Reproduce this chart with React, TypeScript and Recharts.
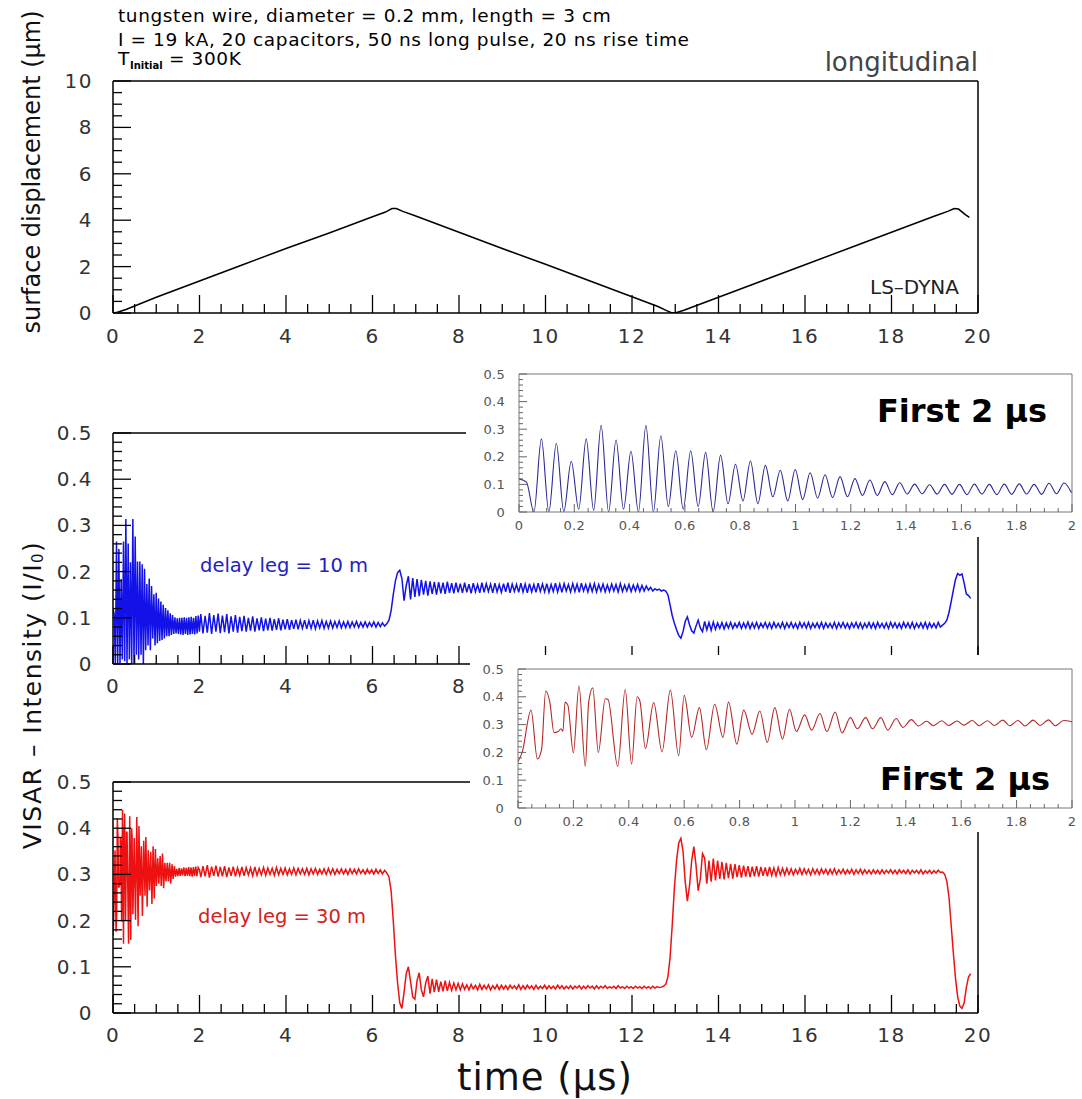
import React from "react";
import { LineChart, Line, XAxis, YAxis, ReferenceLine } from "recharts";

const FONT = "'DejaVu Sans', Verdana, sans-serif";

// tick labels
const TOP_X_MAJOR = [0, 2, 4, 6, 8, 10, 12, 14, 16, 18, 20];
const TOP_Y_MAJOR = [0, 2, 4, 6, 8, 10];
const VISAR_Y_MAJOR = [0, 0.1, 0.2, 0.3, 0.4, 0.5];
const INSET_X_MAJOR = [0, 0.2, 0.4, 0.6, 0.8, 1, 1.2, 1.4, 1.6, 1.8, 2];

// surface displacement (um) vs time (us)
const TOP_T = [0, 0.1, 0.3, 0.5, 1, 2, 3, 4, 5, 6, 6.3, 6.45, 6.55, 6.7, 7, 8, 9, 10, 11, 12, 12.6, 12.8, 12.9, 13.0, 13.2, 14, 15, 16, 17, 18, 19, 19.3, 19.45, 19.55, 19.7, 19.8];
const TOP_D = [0, 0.03, 0.15, 0.3, 0.68, 1.38, 2.08, 2.78, 3.45, 4.15, 4.35, 4.5, 4.5, 4.38, 4.18, 3.48, 2.78, 2.1, 1.4, 0.7, 0.28, 0.1, 0.02, 0.0, 0.12, 0.68, 1.38, 2.08, 2.78, 3.48, 4.18, 4.38, 4.5, 4.48, 4.25, 4.12];

// sampling of the VISAR traces (us)
const EARLY_STEP = 0.027;
const STEP = 0.05;

// delay leg = 10 m, first 2 us (peaks / troughs)
const BLUE_0_2 = [
  0.12, 0.108, 0.0, 0.265, 0.0, 0.249, 0.002, 0.184, 0.01, 0.265,
  0.006, 0.314, 0.0, 0.261, 0.01, 0.22, 0.0, 0.314, 0.0, 0.276,
  0.02, 0.222, 0.01, 0.222, 0.02, 0.216, 0.0, 0.206, 0.03, 0.173,
  0.04, 0.185, 0.03, 0.169, 0.055, 0.151, 0.04, 0.154, 0.045, 0.142,
  0.05, 0.135, 0.052, 0.128, 0.055, 0.121, 0.06, 0.116, 0.06, 0.11,
  0.063, 0.106, 0.065, 0.101, 0.066, 0.099, 0.065, 0.1, 0.064, 0.1,
  0.063, 0.101, 0.065, 0.1, 0.063, 0.101, 0.064, 0.102, 0.065, 0.1,
  0.064, 0.104, 0.066, 0.105, 0.07,
];
// 2.03 .. 6.28 us
const BLUE_2_6 = [
  0.108, 0.066, 0.104, 0.068, 0.11, 0.065, 0.106, 0.07, 0.109, 0.067,
  0.105, 0.069, 0.108, 0.066, 0.103, 0.07, 0.106, 0.068, 0.102, 0.071,
  0.104, 0.07, 0.1, 0.072, 0.103, 0.07, 0.099, 0.073, 0.101, 0.071,
  0.098, 0.073, 0.1, 0.072, 0.097, 0.074, 0.099, 0.073, 0.096, 0.075,
  0.097, 0.074, 0.095, 0.076, 0.096, 0.075, 0.094, 0.077, 0.095, 0.076,
  0.094, 0.077, 0.095, 0.076, 0.093, 0.078, 0.094, 0.077, 0.092, 0.078,
  0.093, 0.078, 0.092, 0.079, 0.093, 0.078, 0.091, 0.079, 0.092, 0.079,
  0.091, 0.08, 0.092, 0.079, 0.09, 0.08, 0.091, 0.08, 0.09, 0.081,
  0.091, 0.08, 0.09, 0.081, 0.089, 0.082,
];
// 6.33 .. 12.78 us
const BLUE_6_13 = [
  0.087, 0.095, 0.115, 0.15, 0.18, 0.198, 0.203, 0.185, 0.137, 0.17,
  0.19, 0.14, 0.186, 0.145, 0.184, 0.147, 0.182, 0.15, 0.18, 0.148,
  0.179, 0.152, 0.178, 0.15, 0.177, 0.153, 0.176, 0.152, 0.178, 0.154,
  0.175, 0.153, 0.176, 0.155,
  0.174, 0.154, 0.176, 0.155, 0.173, 0.153, 0.175, 0.156, 0.172, 0.154,
  0.176, 0.155, 0.174, 0.157, 0.173, 0.154, 0.175, 0.156, 0.172, 0.155,
  0.174, 0.156, 0.176, 0.154, 0.173, 0.157, 0.172, 0.155, 0.175, 0.156,
  0.173, 0.154, 0.174, 0.156, 0.172, 0.155, 0.175, 0.157, 0.173, 0.156,
  0.174, 0.155, 0.172, 0.157, 0.175, 0.156, 0.173, 0.155, 0.174, 0.158,
  0.172, 0.156, 0.174, 0.157, 0.173, 0.155, 0.175, 0.158, 0.172, 0.156,
  0.173, 0.157, 0.174, 0.156, 0.172, 0.158, 0.173, 0.156, 0.171, 0.157,
  0.173, 0.158, 0.172, 0.156, 0.174, 0.157, 0.171, 0.158, 0.172, 0.157,
  0.171, 0.158, 0.172, 0.157, 0.17, 0.158, 0.169, 0.16,
  0.166, 0.158, 0.163, 0.16, 0.162, 0.158, 0.16, 0.158,
];
// 12.83 .. 19.83 us
const BLUE_13_20 = [
  0.15, 0.128, 0.105, 0.088, 0.074, 0.062, 0.056, 0.07, 0.092, 0.102,
  0.085, 0.072, 0.067, 0.082, 0.095, 0.078, 0.07, 0.092, 0.074, 0.09,
  0.073, 0.091, 0.075, 0.089,
  0.077, 0.09, 0.076, 0.089, 0.078, 0.09, 0.077, 0.088, 0.079, 0.09,
  0.077, 0.089, 0.078, 0.091, 0.077, 0.089, 0.078, 0.09, 0.077, 0.088,
  0.079, 0.09, 0.078, 0.089, 0.077, 0.09, 0.079, 0.088, 0.078, 0.09,
  0.077, 0.089, 0.079, 0.09, 0.078, 0.088, 0.077, 0.09, 0.079, 0.089,
  0.078, 0.09, 0.077, 0.088, 0.079, 0.089, 0.078, 0.09, 0.077, 0.089,
  0.079, 0.088, 0.078, 0.09, 0.077, 0.089, 0.079, 0.09, 0.078, 0.088,
  0.077, 0.089, 0.079, 0.09, 0.078, 0.089, 0.077, 0.088, 0.079, 0.09,
  0.078, 0.089, 0.077, 0.09, 0.079, 0.088, 0.078, 0.089, 0.077, 0.09,
  0.079, 0.089, 0.078, 0.088, 0.077, 0.09, 0.079, 0.089, 0.078, 0.09,
  0.077, 0.088, 0.079, 0.089, 0.078, 0.09, 0.077, 0.089, 0.079, 0.088,
  0.078, 0.09, 0.08,
  0.084, 0.088, 0.095, 0.112, 0.135, 0.16, 0.183, 0.196, 0.192, 0.195,
  0.175, 0.152, 0.148, 0.142,
];

// delay leg = 30 m, first 2 us
const RED_0_2_T = [
  0, 0.015, 0.047, 0.07, 0.085, 0.1, 0.115, 0.13, 0.145, 0.155,
  0.162, 0.17, 0.18, 0.2, 0.22, 0.243, 0.255, 0.27, 0.29, 0.315,
  0.325, 0.36, 0.387, 0.41, 0.43, 0.44, 0.46, 0.49, 0.52, 0.55,
  0.58, 0.6, 0.627, 0.655, 0.68, 0.71, 0.74, 0.76, 0.79, 0.815,
  0.845, 0.873, 0.9, 0.927, 0.955, 0.98, 1.005, 1.035, 1.06, 1.09,
  1.115, 1.145, 1.17, 1.2, 1.225, 1.255, 1.28, 1.31, 1.335, 1.365,
  1.39, 1.42, 1.445, 1.475, 1.5, 1.53, 1.555, 1.585, 1.61, 1.64,
  1.665, 1.695, 1.72, 1.75, 1.775, 1.805, 1.83, 1.86, 1.885, 1.915,
  1.94, 1.97, 2.0,
];
const RED_0_2 = [
  0.167, 0.2, 0.352, 0.176, 0.21, 0.421, 0.38, 0.271, 0.275, 0.285,
  0.276, 0.381, 0.37, 0.198, 0.44, 0.15, 0.38, 0.432, 0.2, 0.393,
  0.39, 0.15, 0.426, 0.158, 0.4, 0.385, 0.214, 0.379, 0.202, 0.424,
  0.188, 0.405, 0.254, 0.361, 0.21, 0.373, 0.254, 0.381, 0.23, 0.352,
  0.265, 0.349, 0.236, 0.361, 0.248, 0.355, 0.275, 0.335, 0.28, 0.34,
  0.275, 0.345, 0.27, 0.325, 0.285, 0.325, 0.285, 0.325, 0.28, 0.322,
  0.29, 0.318, 0.295, 0.312, 0.296, 0.314, 0.297, 0.313, 0.298, 0.315,
  0.296, 0.314, 0.297, 0.316, 0.296, 0.315, 0.295, 0.316, 0.297, 0.317,
  0.296, 0.315, 0.31,
];
// 2.03 .. 6.28 us
const RED_2_6 = [
  0.294, 0.318, 0.296, 0.32, 0.293, 0.317, 0.297, 0.319, 0.295, 0.316,
  0.296, 0.318, 0.294, 0.315, 0.297, 0.317, 0.296, 0.314, 0.298, 0.316,
  0.297, 0.315, 0.299, 0.314, 0.297, 0.316, 0.298, 0.313, 0.299, 0.315,
  0.298, 0.314, 0.3, 0.313, 0.298, 0.315, 0.299, 0.313, 0.3, 0.314,
  0.299, 0.312, 0.3, 0.314, 0.299, 0.313, 0.301, 0.312, 0.3, 0.313,
  0.299, 0.312, 0.301, 0.313, 0.3, 0.311, 0.301, 0.312, 0.3, 0.313,
  0.301, 0.312, 0.3, 0.311, 0.302, 0.312, 0.301, 0.311, 0.3, 0.312,
  0.302, 0.311, 0.301, 0.312, 0.302, 0.31, 0.301, 0.311, 0.302, 0.31,
  0.301, 0.311, 0.302, 0.31, 0.301, 0.309,
];
// 6.33 .. 12.73 us
const RED_6_13 = [
  0.303, 0.295, 0.265, 0.2, 0.125, 0.065, 0.022, 0.01, 0.045, 0.085,
  0.1, 0.068, 0.035, 0.03, 0.07, 0.087, 0.05, 0.035, 0.065, 0.08,
  0.042, 0.074, 0.045, 0.072, 0.046, 0.068, 0.047, 0.07, 0.048, 0.066,
  0.049, 0.065, 0.05, 0.064,
  0.05, 0.063, 0.051, 0.061, 0.05, 0.062, 0.052, 0.06, 0.05, 0.062,
  0.051, 0.06, 0.052, 0.061, 0.05, 0.059, 0.052, 0.061, 0.051, 0.06,
  0.052, 0.059, 0.051, 0.06, 0.053, 0.059, 0.052, 0.061, 0.051, 0.059,
  0.052, 0.06, 0.053, 0.059, 0.051, 0.06, 0.052, 0.058, 0.053, 0.06,
  0.052, 0.059, 0.053, 0.058, 0.052, 0.06, 0.053, 0.059, 0.052, 0.058,
  0.053, 0.059, 0.052, 0.058, 0.054, 0.059, 0.052, 0.058, 0.053, 0.059,
  0.054, 0.058, 0.052, 0.059, 0.053, 0.058, 0.054, 0.059, 0.053, 0.057,
  0.054, 0.058, 0.053, 0.059, 0.054, 0.057, 0.053, 0.058, 0.054, 0.057,
  0.053, 0.058, 0.054, 0.057, 0.053, 0.058, 0.054, 0.057, 0.053, 0.058,
  0.054, 0.057, 0.055, 0.056, 0.058,
];
// 12.78 .. 19.83 us
const RED_13_20 = [
  0.062, 0.078, 0.12, 0.19, 0.27, 0.33, 0.368, 0.378, 0.35, 0.285,
  0.242, 0.275, 0.33, 0.36, 0.32, 0.265, 0.29, 0.345, 0.335, 0.28,
  0.33, 0.284, 0.334, 0.287, 0.33,
  0.29, 0.327, 0.289, 0.325, 0.292, 0.323, 0.291, 0.322, 0.294, 0.32,
  0.293, 0.319, 0.295, 0.318, 0.294, 0.317, 0.296, 0.318, 0.295, 0.316,
  0.297, 0.315, 0.296, 0.316, 0.298, 0.314, 0.297, 0.315, 0.299, 0.313,
  0.299, 0.313, 0.3, 0.312, 0.299, 0.311, 0.301, 0.313, 0.3, 0.312,
  0.301, 0.311, 0.299, 0.312, 0.301, 0.311, 0.3, 0.312, 0.302, 0.311,
  0.3, 0.311, 0.301, 0.312, 0.3, 0.31, 0.302, 0.311, 0.301, 0.31,
  0.302, 0.311, 0.3, 0.31, 0.302, 0.311, 0.301, 0.31, 0.302, 0.309,
  0.301, 0.31, 0.302, 0.309, 0.301, 0.31, 0.302, 0.309, 0.303, 0.31,
  0.302, 0.309, 0.301, 0.31, 0.303, 0.309, 0.302, 0.31, 0.301, 0.309,
  0.303, 0.309, 0.302, 0.31, 0.301, 0.308, 0.303, 0.309, 0.302, 0.308,
  0.303, 0.309, 0.304,
  0.305, 0.3, 0.285, 0.25, 0.19, 0.13, 0.075, 0.035, 0.015, 0.01,
  0.022, 0.055, 0.078, 0.085,
];

const seg = (t0: number, dt: number, vals: number[]) =>
  vals.map((v, i) => ({ t: +(t0 + i * dt).toFixed(3), v }));

const topData = TOP_T.map((t, i) => ({ t, d: TOP_D[i] }));
const blueEarly = seg(0, EARLY_STEP, BLUE_0_2);
const blueData = [
  ...blueEarly,
  ...seg(2.03, STEP, BLUE_2_6),
  ...seg(6.33, STEP, BLUE_6_13),
  ...seg(12.83, STEP, BLUE_13_20),
];
const redEarly = RED_0_2_T.map((t, i) => ({ t, v: RED_0_2[i] }));
const redData = [
  ...redEarly,
  ...seg(2.03, STEP, RED_2_6),
  ...seg(6.33, STEP, RED_6_13),
  ...seg(12.78, STEP, RED_13_20),
];

function withMinors(majors: number[], parts: number) {
  const out: number[] = [];
  majors.forEach((m, i) => {
    out.push(m);
    const next = majors[i + 1];
    if (next === undefined) return;
    for (let k = 1; k < parts; k++) out.push(+(m + ((next - m) * k) / parts).toFixed(4));
  });
  return out;
}

const fmt = (v: number) => String(+v.toFixed(2));
const isMajor = (v: number, majors: number[]) => majors.some((m) => Math.abs(m - v) < 1e-6);

type TickStyle = { majors: number[]; big: number; small: number; gap: number; size: number; color: string; stroke: string; sw: number; ls: number };

const MAIN_TICK = { big: 18, small: 9, size: 20, color: "#333", stroke: "#000", sw: 1.3, ls: 1.5 };
const INSET_TICK = { big: 8, small: 4, size: 13, color: "#555", stroke: "#666", sw: 1, ls: 0.3 };

// axis gutters (recharts needs a non-zero axis box to draw the axis)
const XH = 30;
const YW = 60;

function xTick(o: TickStyle) {
  return (p: any) => {
    const v = p.payload.value;
    const major = isMajor(v, o.majors);
    return (
      <g>
        <line x1={p.x} x2={p.x} y1={p.y} y2={p.y - (major ? o.big : o.small)} stroke={o.stroke} strokeWidth={o.sw} />
        {major && (
          <text x={p.x} y={p.y + o.gap} textAnchor="middle" dominantBaseline="central" fontFamily={FONT} fontSize={o.size} fill={o.color} letterSpacing={o.ls}>
            {fmt(v)}
          </text>
        )}
      </g>
    );
  };
}

function yTick(o: TickStyle) {
  return (p: any) => {
    const v = p.payload.value;
    const major = isMajor(v, o.majors);
    return (
      <g>
        <line x1={p.x} x2={p.x + (major ? o.big : o.small)} y1={p.y} y2={p.y} stroke={o.stroke} strokeWidth={o.sw} />
        {major && (
          <text x={p.x - o.gap} y={p.y} textAnchor="end" dominantBaseline="central" fontFamily={FONT} fontSize={o.size} fill={o.color} letterSpacing={o.ls}>
            {fmt(v)}
          </text>
        )}
      </g>
    );
  };
}

function VisarPanel({ top, height, plotTop, data, color }: { top: number; height: number; plotTop: number; data: { t: number; v: number }[]; color: string }) {
  const plotBottom = plotTop + 231;
  return (
    <div style={{ position: "absolute", left: 0, top }}>
      <LineChart width={1082} height={height} data={data} margin={{ top: plotTop - top, right: 104, bottom: top + height - plotBottom - XH, left: 113 - YW }}>
        <XAxis dataKey="t" type="number" domain={[0, 20]} allowDataOverflow ticks={withMinors(TOP_X_MAJOR, 4)} interval={0}
          height={XH} tickSize={0} tickMargin={0} tickLine={false} axisLine={{ stroke: "#000", strokeWidth: 1.5 }}
          tick={xTick({ majors: TOP_X_MAJOR, gap: 22, ...MAIN_TICK })} />
        <YAxis type="number" domain={[0, 0.5]} allowDataOverflow ticks={withMinors(VISAR_Y_MAJOR, 5)} interval={0}
          width={YW} tickSize={0} tickMargin={0} tickLine={false} axisLine={{ stroke: "#000", strokeWidth: 1.5 }}
          tick={yTick({ majors: VISAR_Y_MAJOR, gap: 20, ...MAIN_TICK })} />
        <ReferenceLine y={0.5} stroke="#000" strokeWidth={1.5} />
        <ReferenceLine x={20} stroke="#000" strokeWidth={1.5} />
        <Line type="linear" dataKey="v" stroke={color} strokeWidth={1.5} dot={false} activeDot={false} isAnimationActive={false} />
      </LineChart>
    </div>
  );
}

function Inset({ left, top, plotLeft, plotTop, plotBottom, data, color }: { left: number; top: number; plotLeft: number; plotTop: number; plotBottom: number; data: { t: number; v: number }[]; color: string }) {
  const w = 1082 - left;
  const h = 177;
  return (
    <div style={{ position: "absolute", left, top, width: w, height: h, background: "#fff" }}>
      <LineChart width={w} height={h} data={data} margin={{ top: plotTop - top, right: 10, bottom: top + h - plotBottom - 20, left: plotLeft - left - 40 }}>
        <XAxis dataKey="t" type="number" domain={[0, 2]} allowDataOverflow ticks={withMinors(INSET_X_MAJOR, 4)} interval={0}
          height={20} tickSize={0} tickMargin={0} tickLine={false} axisLine={{ stroke: "#777", strokeWidth: 1 }}
          tick={xTick({ majors: INSET_X_MAJOR, gap: 13, ...INSET_TICK })} />
        <YAxis type="number" domain={[0, 0.5]} allowDataOverflow ticks={withMinors(VISAR_Y_MAJOR, 5)} interval={0}
          width={40} tickSize={0} tickMargin={0} tickLine={false} axisLine={{ stroke: "#777", strokeWidth: 1 }}
          tick={yTick({ majors: VISAR_Y_MAJOR, gap: 14, ...INSET_TICK })} />
        <ReferenceLine y={0.5} stroke="#777" strokeWidth={1} />
        <ReferenceLine x={2} stroke="#777" strokeWidth={1} />
        <Line type="monotone" dataKey="v" stroke={color} strokeWidth={1.1} dot={false} activeDot={false} isAnimationActive={false} />
      </LineChart>
    </div>
  );
}

export default function App() {
  return (
    <div style={{ position: "absolute", left: 0, top: 0, width: 1082, height: 1099, background: "#fff", overflow: "hidden" }}>
      <div style={{ position: "absolute", left: 0, top: 0 }}>
        <LineChart width={1082} height={360} data={topData} margin={{ top: 81, right: 104, bottom: 47 - XH, left: 113 - YW }}>
          <XAxis dataKey="t" type="number" domain={[0, 20]} allowDataOverflow ticks={withMinors(TOP_X_MAJOR, 4)} interval={0}
            height={XH} tickSize={0} tickMargin={0} tickLine={false} axisLine={{ stroke: "#000", strokeWidth: 1.5 }}
            tick={xTick({ majors: TOP_X_MAJOR, gap: 23, ...MAIN_TICK })} />
          <YAxis type="number" domain={[0, 10]} allowDataOverflow ticks={withMinors(TOP_Y_MAJOR, 4)} interval={0}
            width={YW} tickSize={0} tickMargin={0} tickLine={false} axisLine={{ stroke: "#000", strokeWidth: 1.5 }}
            tick={yTick({ majors: TOP_Y_MAJOR, gap: 20, ...MAIN_TICK })} />
          <ReferenceLine y={10} stroke="#000" strokeWidth={1.5} />
          <ReferenceLine x={20} stroke="#000" strokeWidth={1.5} />
          <Line type="linear" dataKey="d" stroke="#000" strokeWidth={1.5} dot={false} activeDot={false} isAnimationActive={false} />
        </LineChart>
      </div>

      <VisarPanel top={380} height={330} plotTop={433} data={blueData} color="#1212e8" />
      <VisarPanel top={740} height={359} plotTop={782} data={redData} color="#ee1111" />

      <Inset left={466} top={360} plotLeft={519} plotTop={374} plotBottom={512} data={blueEarly} color="#2a2a96" />
      <Inset left={470} top={655} plotLeft={518} plotTop={669} plotBottom={808} data={redEarly} color="#b42828" />

      <svg width={1082} height={1099} style={{ position: "absolute", left: 0, top: 0, pointerEvents: "none" }}>
        <g fontFamily={FONT} fill="#000">
          <text x={118} y={22} fontSize={18.5} letterSpacing={0.6}>tungsten wire, diameter = 0.2 mm, length = 3 cm</text>
          <text x={118} y={46} fontSize={18.5} letterSpacing={0.6}>I = 19 kA, 20 capacitors, 50 ns long pulse, 20 ns rise time</text>
          <text x={118} y={65} fontSize={18.5} letterSpacing={0.6}>
            T<tspan fontSize={10} fontWeight="bold" letterSpacing={0} dy={4}>Initial</tspan>
            <tspan dy={-4}> = 300K</tspan>
          </text>
          <text x={978} y={71} fontSize={26} textAnchor="end" fill="#444">longitudinal</text>
          <text x={870} y={294} fontSize={20} fill="#222">LS–DYNA</text>
          <text transform="translate(32,172) rotate(-90)" textAnchor="middle" dominantBaseline="central" fontSize={24} fill="#111">
            surface displacement (µm)
          </text>
          <text transform="translate(32,695) rotate(-90)" textAnchor="middle" dominantBaseline="central" fontSize={25} letterSpacing={1.5} fill="#111">
            VISAR – Intensity (I/I<tspan fontSize={15} dy={6}>0</tspan>
            <tspan dy={-6}>)</tspan>
          </text>
          <text x={545} y={1090} fontSize={37} letterSpacing={1} textAnchor="middle" fill="#111">time (µs)</text>
          <text x={200} y={572} fontSize={19.5} fill="#2222c0">delay leg = 10 m</text>
          <text x={198} y={923} fontSize={19.5} fill="#d42020">delay leg = 30 m</text>
          <text x={877} y={422} fontSize={32} fontWeight="bold">First 2 µs</text>
          <text x={880} y={790} fontSize={32} fontWeight="bold">First 2 µs</text>
        </g>
      </svg>
    </div>
  );
}
